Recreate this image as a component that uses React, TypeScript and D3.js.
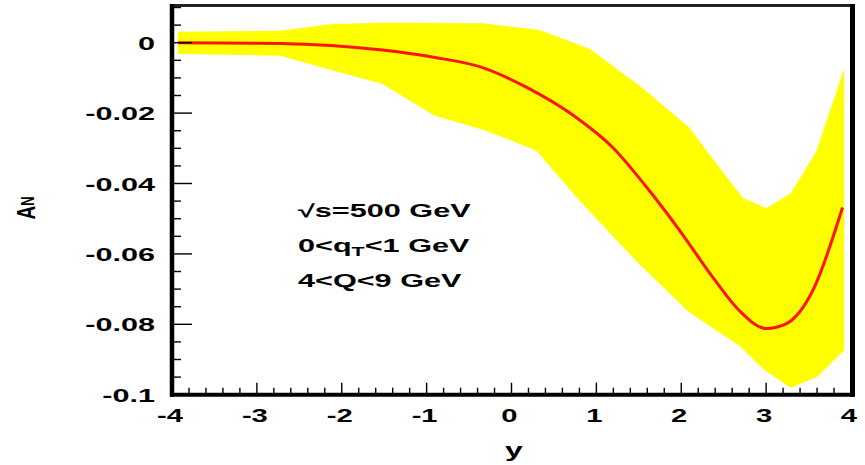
import React from "react";
import * as d3 from "d3";

const W = 865;
const H = 465;

// Upper edge of the uncertainty band
const upperX = [-3.93, -2.73, -2.1, -1.52, -0.34, 0.33, 0.92, 1.54, 2.09, 2.72, 3.0, 3.29, 3.59, 3.92];
const upperY = [0.0031, 0.0034, 0.0053, 0.0057, 0.0055, 0.0036, -0.0017, -0.0128, -0.024, -0.044, -0.047, -0.0428, -0.031, -0.0074];

// Lower edge of the uncertainty band
const lowerX = [-3.93, -2.73, -1.52, -0.91, -0.3, 0.29, 0.8, 1.5, 2.09, 2.68, 2.98, 3.29, 3.6, 3.92];
const lowerY = [-0.0032, -0.0037, -0.0117, -0.0207, -0.025, -0.0306, -0.0448, -0.0628, -0.0765, -0.086, -0.093, -0.098, -0.095, -0.0874];

// Central curve
const curveX = [-3.93, -2.73, -1.52, -0.9, -0.35, 0.18, 0.76, 1.19, 1.59, 1.98, 2.37, 2.68, 3.0, 3.24, 3.55, 3.9];
const curveY = [0, -0.0002, -0.0021, -0.0042, -0.007, -0.0127, -0.0212, -0.0297, -0.041, -0.0533, -0.0666, -0.076, -0.0812, -0.0798, -0.0704, -0.0468];

const xTicks = [-4, -3, -2, -1, 0, 1, 2, 3, 4];
const xTickLabels = ["-4", "-3", "-2", "-1", "0", "1", "2", "3", "4"];
const yTicks = [0, -0.02, -0.04, -0.06, -0.08, -0.1];
const yTickLabels = ["0", "-0.02", "-0.04", "-0.06", "-0.08", "-0.1"];

const xLabel = "y";
const annotations = ["√s=500 GeV", "0<q|T|<1 GeV", "4<Q<9 GeV"];

const FONT = "'Liberation Sans', Arial, Helvetica, sans-serif";
const SX = 1.75;
const FS = 17.5;

export default function App() {
  const left = 172;
  const right = 851;
  const top = 5.5;
  const bottom = 394.7;

  const x = d3.scaleLinear().domain([-4, 4]).range([left, right]);
  const y = d3.scaleLinear().domain([-0.1, 0.01057]).range([bottom, top]);

  const bandPts: [number, number][] = [
    ...upperX.map((v, i) => [v, upperY[i]] as [number, number]),
    ...lowerX.map((v, i) => [v, lowerY[i]] as [number, number]).reverse(),
  ];
  const bandPath =
    d3
      .line<[number, number]>()
      .x((d) => x(d[0]))
      .y((d) => y(d[1]))(bandPts) + "Z";

  const curvePath = d3
    .line<number>()
    .x((d) => x(d))
    .y((_, i) => y(curveY[i]))
    .curve(d3.curveMonotoneX)(curveX) as string;

  const xMinor = d3.range(-4, 4.0001, 0.2).filter((v) => Math.abs(v - Math.round(v)) > 1e-6);
  const yMinor = d3
    .range(-0.1, 0.0106, 0.005)
    .filter((v) => Math.abs(v / 0.02 - Math.round(v / 0.02)) > 1e-6);

  const renderAnnotation = (s: string) => {
    const parts = s.split("|");
    if (parts.length === 1) return s;
    return [
      <tspan key="a">{parts[0]}</tspan>,
      <tspan key="b" fontSize={FS * 0.7} dy={4}>
        {parts[1]}
      </tspan>,
      <tspan key="c" dy={-4}>
        {parts[2]}
      </tspan>,
    ];
  };

  return (
    <svg
      width={W}
      height={H}
      style={{ position: "absolute", left: 0, top: 0, background: "#fff" }}
      fontFamily={FONT}
      fontWeight="bold"
    >
      <rect x={0} y={0} width={W} height={H} fill="#fff" />
      <path d={bandPath} fill="#ffff00" stroke="none" />
      <path d={curvePath} fill="none" stroke="#ff1400" strokeWidth={3} />

      {/* y ticks */}
      {yTicks.map((t) => (
        <line key={"yt" + t} x1={left} x2={left + 20} y1={y(t)} y2={y(t)} stroke="#000" strokeWidth={1.4} />
      ))}
      {yMinor.map((t) => (
        <line key={"ym" + t} x1={left} x2={left + 9} y1={y(t)} y2={y(t)} stroke="#000" strokeWidth={1.4} />
      ))}
      {/* x ticks */}
      {xTicks.map((t) => (
        <line key={"xt" + t} x1={x(t)} x2={x(t)} y1={bottom} y2={bottom - 12} stroke="#000" strokeWidth={1.4} />
      ))}
      {xMinor.map((t) => (
        <line key={"xm" + t} x1={x(t)} x2={x(t)} y1={bottom} y2={bottom - 7} stroke="#000" strokeWidth={1.4} />
      ))}

      {/* frame */}
      <line x1={left - 2} x2={853} y1={top} y2={top} stroke="#222" strokeWidth={3} />
      <line x1={852.5} x2={852.5} y1={top - 1.5} y2={bottom + 2} stroke="#000" strokeWidth={5} />
      <line x1={left} x2={left} y1={top - 1.5} y2={bottom + 2} stroke="#000" strokeWidth={4.5} />
      <line x1={left - 2} x2={855} y1={bottom} y2={bottom} stroke="#000" strokeWidth={4} />

      {/* y tick labels */}
      {yTicks.map((t, i) => (
        <text
          key={"yl" + t}
          transform={`translate(155,${y(t) + 7}) scale(${SX},1)`}
          textAnchor="end"
          fontSize={FS}
          fill="#000"
        >
          {yTickLabels[i]}
        </text>
      ))}
      {/* x tick labels */}
      {xTicks.map((t, i) => (
        <text
          key={"xl" + t}
          transform={`translate(${x(t) - 2},421.5) scale(1.67,1)`}
          textAnchor="middle"
          fontSize={FS}
          fill="#000"
        >
          {xTickLabels[i]}
        </text>
      ))}

      {/* axis titles */}
      <text transform={`translate(514,457) scale(1.6,1)`} textAnchor="middle" fontSize={20} fill="#000">
        {xLabel}
      </text>
      <g transform="translate(35,208) scale(1.35,1)">
        <text transform="rotate(-90)" textAnchor="middle" fontSize={19} fill="#000">
          A
          <tspan fontSize={13} dy={-1}>
            N
          </tspan>
        </text>
      </g>

      {/* annotations */}
      {annotations.map((s, i) => (
        <text
          key={"an" + i}
          transform={`translate(298,${217 + i * 35}) scale(${SX},1)`}
          fontSize={FS}
          fill="#000"
        >
          {renderAnnotation(s)}
        </text>
      ))}
    </svg>
  );
}
